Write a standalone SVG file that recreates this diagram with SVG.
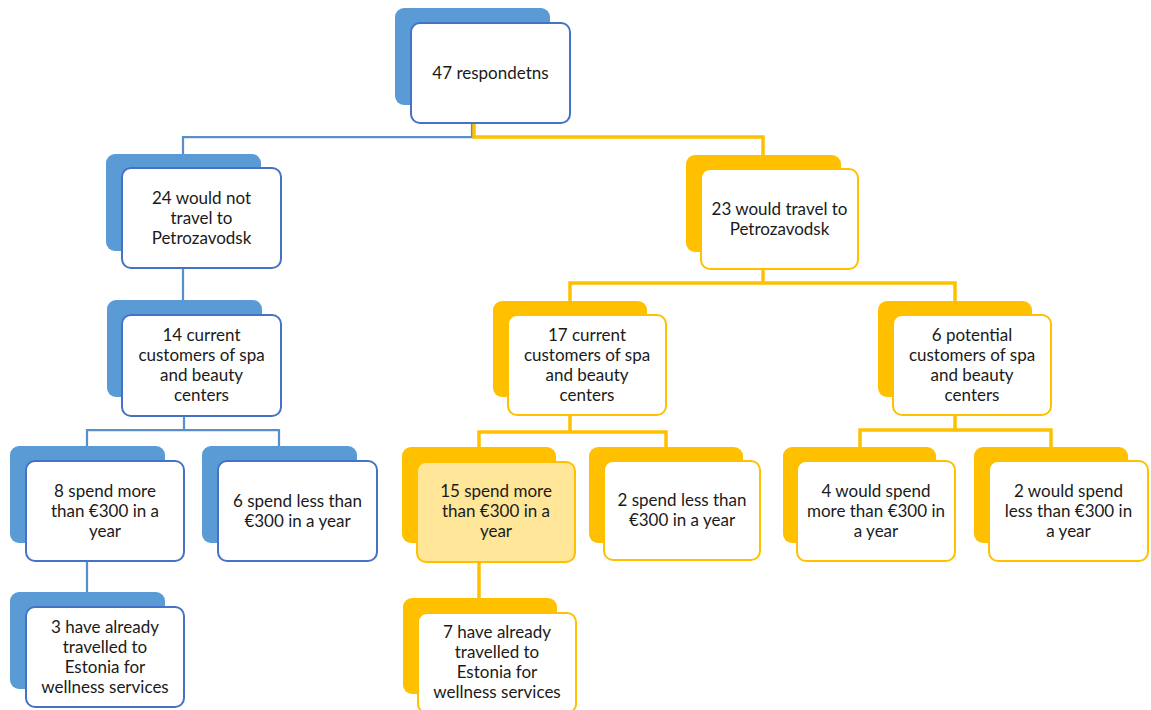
<svg xmlns="http://www.w3.org/2000/svg" width="1151" height="710" viewBox="0 0 1151 710">
<style>
.bb{fill:#5B9BD5}
.fb{fill:#FFFFFF;stroke:#4472C4;stroke-width:2}
.by{fill:#FFC000}
.fy{fill:#FFFFFF;stroke:#FFC000;stroke-width:2}
.fh{fill:#FFE699;stroke:#FFC000;stroke-width:2}
.cb{fill:none;stroke:#5B8FC9;stroke-width:2.25}
.cy{fill:none;stroke:#FFC000;stroke-width:3.5}
text{font-family:Lato,"Liberation Sans",sans-serif;font-size:17px;fill:#1A1A1A;text-anchor:middle}
</style>
<rect width="1151" height="710" fill="#FFFFFF"/>
<g id="connectors">
<path class="cb" d="M472,122 V137 H183 V154"/>
<path class="cy" d="M474,122 V137 H763 V155"/>
<path class="cb" d="M183,268 V300"/>
<path class="cb" d="M184,416 V430 M87,446 V430 H279 V446"/>
<path class="cb" d="M87,560 V592"/>
<path class="cy" d="M763,269 V283 M570,301 V283 H955 V301"/>
<path class="cy" d="M570,415 V432 M479,447 V432 H666 V447"/>
<path class="cy" d="M955,415 V430 M860,447 V430 H1051 V447"/>
<path class="cy" d="M479,562 V598"/>
</g>
<g id="n47">
<rect class="bb" x="395" y="8" width="155" height="97" rx="9"/>
<rect class="fb" x="411" y="23" width="159" height="100" rx="9"/>
<text x="490.5" y="79">47 respondetns</text>
</g>
<g id="n24">
<rect class="bb" x="106" y="154" width="155" height="97" rx="9"/>
<rect class="fb" x="122" y="168" width="159" height="100" rx="9"/>
<text x="201.5" y="204">24 would not</text>
<text x="201.5" y="224">travel to</text>
<text x="201.5" y="244">Petrozavodsk</text>
</g>
<g id="n23">
<rect class="by" x="686" y="155" width="155" height="97" rx="9"/>
<rect class="fy" x="701" y="169" width="157" height="100" rx="9"/>
<text x="779.5" y="215">23 would travel to</text>
<text x="779.5" y="235">Petrozavodsk</text>
</g>
<g id="n14">
<rect class="bb" x="107" y="300" width="155" height="97" rx="9"/>
<rect class="fb" x="122" y="315" width="159" height="101" rx="9"/>
<text x="201.5" y="341">14 current</text>
<text x="201.5" y="361">customers of spa</text>
<text x="201.5" y="381">and beauty</text>
<text x="201.5" y="401">centers</text>
</g>
<g id="n17">
<rect class="by" x="493" y="301" width="154" height="96" rx="9"/>
<rect class="fy" x="508" y="315" width="158" height="100" rx="9"/>
<text x="587" y="341">17 current</text>
<text x="587" y="361">customers of spa</text>
<text x="587" y="381">and beauty</text>
<text x="587" y="401">centers</text>
</g>
<g id="n6p">
<rect class="by" x="878" y="301" width="154" height="96" rx="9"/>
<rect class="fy" x="893" y="315" width="158" height="100" rx="9"/>
<text x="972" y="341">6 potential</text>
<text x="972" y="361">customers of spa</text>
<text x="972" y="381">and beauty</text>
<text x="972" y="401">centers</text>
</g>
<g id="n8">
<rect class="bb" x="10" y="446" width="155" height="97" rx="9"/>
<rect class="fb" x="26" y="461" width="158" height="100" rx="9"/>
<text x="105" y="497">8 spend more</text>
<text x="105" y="517">than €300 in a</text>
<text x="105" y="537">year</text>
</g>
<g id="n6s">
<rect class="bb" x="202" y="446" width="155" height="97" rx="9"/>
<rect class="fb" x="218" y="461" width="159" height="100" rx="9"/>
<text x="297.5" y="507">6 spend less than</text>
<text x="297.5" y="527">€300 in a year</text>
</g>
<g id="n15">
<rect class="by" x="402" y="447" width="154" height="96" rx="9"/>
<rect class="fh" x="417" y="462" width="158" height="100" rx="9"/>
<text x="496" y="497">15 spend more</text>
<text x="496" y="517">than €300 in a</text>
<text x="496" y="537">year</text>
</g>
<g id="n2s">
<rect class="by" x="589" y="447" width="154" height="96" rx="9"/>
<rect class="fy" x="604" y="461" width="156" height="99" rx="9"/>
<text x="682" y="506">2 spend less than</text>
<text x="682" y="526">€300 in a year</text>
</g>
<g id="n4w">
<rect class="by" x="783" y="447" width="153" height="96" rx="9"/>
<rect class="fy" x="797" y="461" width="158" height="100" rx="9"/>
<text x="876" y="497">4 would spend</text>
<text x="876" y="517">more than €300 in</text>
<text x="876" y="537">a year</text>
</g>
<g id="n2w">
<rect class="by" x="974" y="447" width="154" height="96" rx="9"/>
<rect class="fy" x="989" y="461" width="159" height="100" rx="9"/>
<text x="1068.5" y="497">2 would spend</text>
<text x="1068.5" y="517">less than €300 in</text>
<text x="1068.5" y="537">a year</text>
</g>
<g id="n3">
<rect class="bb" x="10" y="592" width="155" height="97" rx="9"/>
<rect class="fb" x="26" y="607" width="158" height="100" rx="9"/>
<text x="105" y="633">3 have already</text>
<text x="105" y="653">travelled to</text>
<text x="105" y="673">Estonia for</text>
<text x="105" y="693">wellness services</text>
</g>
<g id="n7">
<rect class="by" x="403" y="598" width="154" height="96" rx="9"/>
<rect class="fy" x="418" y="613" width="158" height="100" rx="9"/>
<text x="497" y="638">7 have already</text>
<text x="497" y="658">travelled to</text>
<text x="497" y="678">Estonia for</text>
<text x="497" y="698">wellness services</text>
</g>
</svg>
